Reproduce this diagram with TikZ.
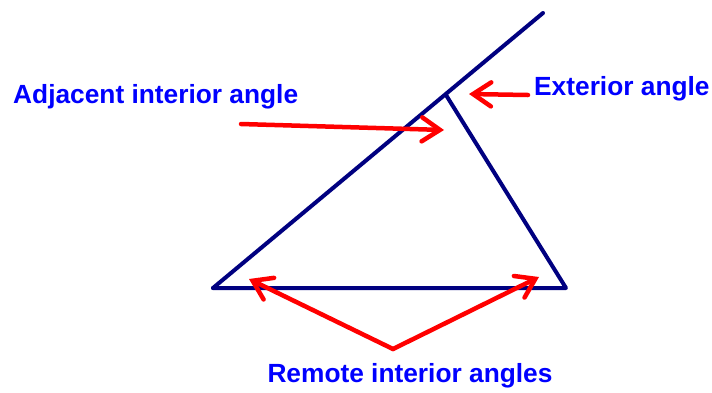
\documentclass[tikz,border=0pt]{standalone}
\usepackage{fontspec}
\setmainfont{Liberation Sans}
\usetikzlibrary{arrows.meta}
\definecolor{tri}{RGB}{0,0,128}
\definecolor{lbl}{RGB}{0,0,255}
\definecolor{arr}{RGB}{255,0,0}
\begin{document}
\begin{tikzpicture}[x=1pt,y=-1pt,
  edge/.style={draw=tri,line width=4pt,line cap=round,line join=round},
  pointer/.style={draw=arr,line width=4.5pt,line cap=round,line join=round,
    -{Straight Barb[length=18pt,width=24pt,line cap=round]}},
  lab/.style={text=lbl,font=\fontsize{26.3}{30}\selectfont\bfseries,inner sep=0pt}]
\useasboundingbox (0,0) rectangle (712,392);
\coordinate (A) at (213,288);
\coordinate (B) at (566,288);
\coordinate (C) at (446,95);
\coordinate (E) at (543,13);
\draw[edge] (A) -- (B) -- (C);
\draw[edge] (A) -- (E);
\node[lab,anchor=west] (adj) at (13,97) {Adjacent interior angle};
\node[lab,anchor=west] (ext) at (534,89) {Exterior angle};
\node[lab] (rem) at (410,376) {Remote interior angles};
\coordinate (adjS) at (241,124);
\coordinate (adjT) at (444,130);
\coordinate (extS) at (528,95);
\coordinate (extT) at (469,94);
\coordinate (remS) at (393,349);
\coordinate (remL) at (249,279);
\coordinate (remR) at (539,277);
\draw[pointer] (adjS) -- (adjT);
\draw[pointer] (extS) -- (extT);
\draw[pointer] (remS) -- (remL);
\draw[pointer] (remS) -- (remR);
\end{tikzpicture}
\end{document}
